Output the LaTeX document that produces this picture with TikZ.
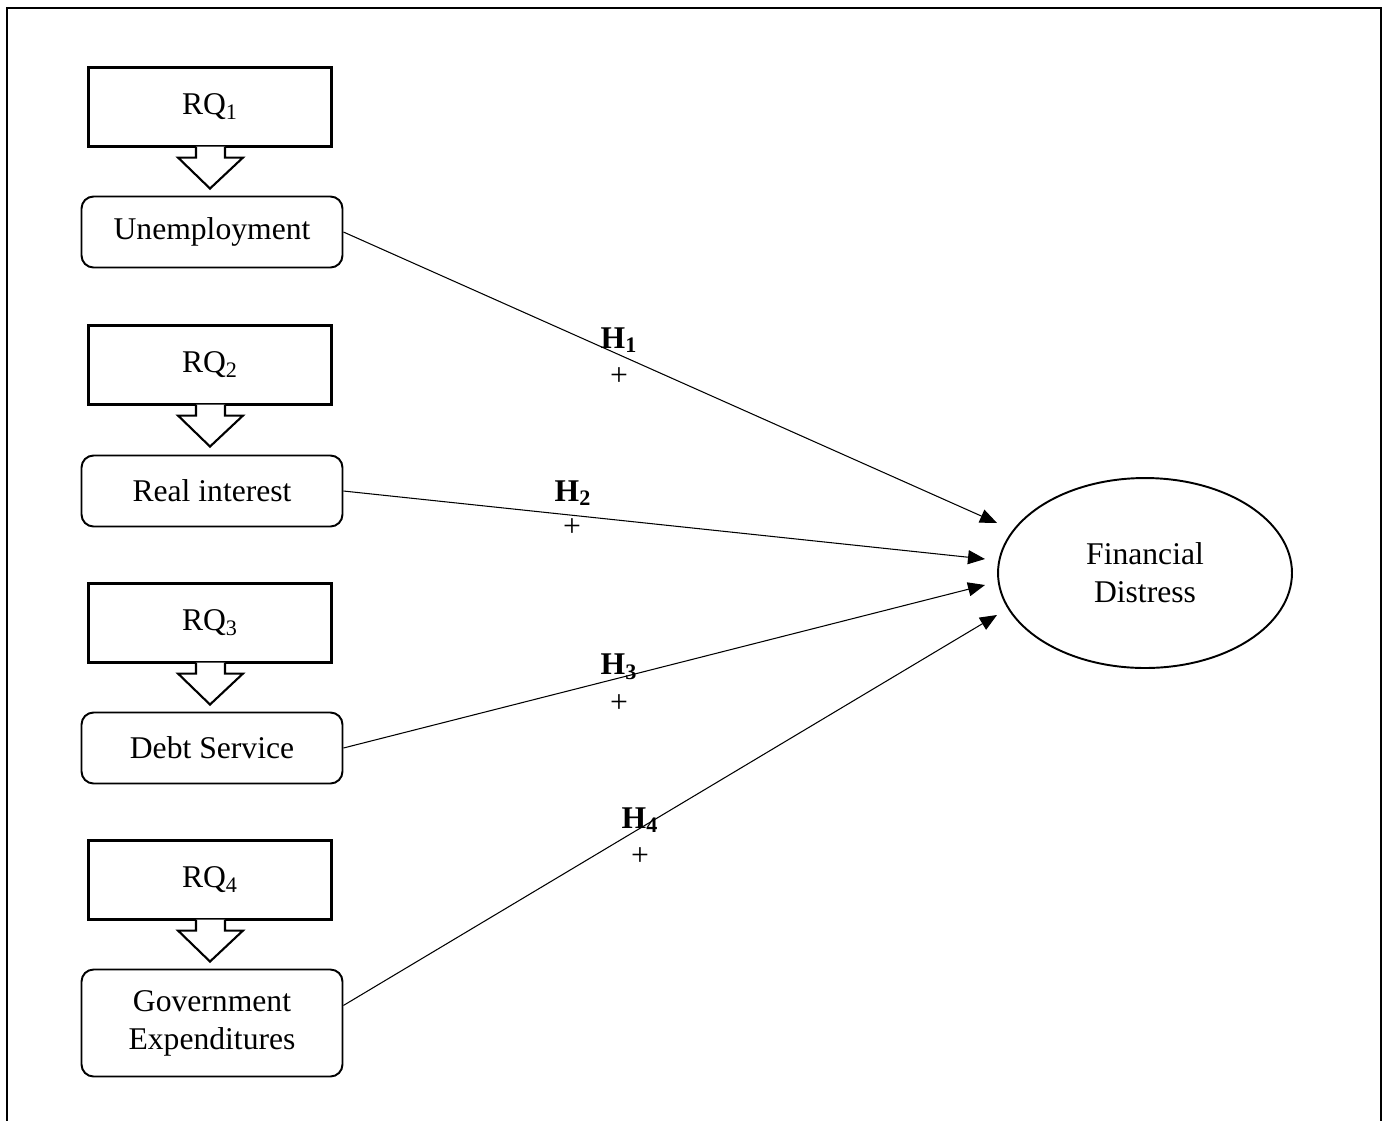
\documentclass[tikz,border=0pt]{standalone}
\usepackage{fontspec}
\setmainfont{Liberation Serif}
\usetikzlibrary{shapes.geometric,arrows.meta}

\tikzset{
  rqbox/.style={draw, line width=1.2pt, minimum width=4.86cm, minimum height=1.58cm},
  varbox/.style={draw, line width=1.1pt, rounded corners=0.24cm, minimum width=5.22cm, minimum height=1.42cm, align=center},
  blockarrow/.style={draw, fill=white, line width=1.2pt, line join=miter},
  hyp/.style={-{Triangle[length=0.34cm,width=0.28cm]}, line width=0.6pt},
}

\begin{document}
\begin{tikzpicture}[x=0.02cm, y=-0.02cm, every node/.style={font=\fontsize{18}{21.5}\selectfont}]
	\clip (0,0) rectangle (1385,1120);
	%outer frame
	\draw[line width=1.6pt] (7,1200) -- (7,8) -- (1381,8) -- (1381,1200);
	%research questions
	\node[rqbox] (rq1) at (210,107) {RQ\textsubscript{1}};
	\node[rqbox] (rq2) at (210,365) {RQ\textsubscript{2}};
	\node[rqbox] (rq3) at (210,623) {RQ\textsubscript{3}};
	\node[rqbox] (rq4) at (210,880) {RQ\textsubscript{4}};
	%variables
	\node[varbox] (unemp) at (212,232) {Unemployment};
	\node[varbox] (realint) at (212,491) {Real interest};
	\node[varbox] (debt) at (212,748) {Debt Service};
	\node[varbox, minimum height=2.14cm] (gov) at (212,1023) {Government\\Expenditures};
	%block arrows
	\draw[blockarrow] (rq1.south) ++(-14,-1) -- ++(0,11) -- ++(-18,0) -- ++(32,31) -- ++(33,-31) -- ++(-18,0) -- ++(0,-11);
	\draw[blockarrow] (rq2.south) ++(-14,-1) -- ++(0,11) -- ++(-18,0) -- ++(32,31) -- ++(33,-31) -- ++(-18,0) -- ++(0,-11);
	\draw[blockarrow] (rq3.south) ++(-14,-1) -- ++(0,11) -- ++(-18,0) -- ++(32,31) -- ++(33,-31) -- ++(-18,0) -- ++(0,-11);
	\draw[blockarrow] (rq4.south) ++(-14,-1) -- ++(0,11) -- ++(-18,0) -- ++(32,31) -- ++(33,-31) -- ++(-18,0) -- ++(0,-11);
	%outcome
	\node[draw, ellipse, line width=1.1pt, minimum width=5.88cm, minimum height=3.8cm, inner sep=0pt, align=center] (fd) at (1145,573) {Financial\\Distress};
	\coordinate (e1) at (997,523);
	\coordinate (e2) at (985,559);
	\coordinate (e3) at (985,585);
	\coordinate (e4) at (997,615);
	%hypotheses
	\draw[hyp] (unemp.east) -- (e1);
	\draw[hyp] (realint.east) -- (e2);
	\draw[hyp] (debt.east) -- (e3);
	\draw[hyp] ([yshift=10]gov.east) -- (e4);
	\node (h1) at (619,340) {\textbf{H\textsubscript{1}}};
	\node (p1) at (619,377) {+};
	\node (h2) at (573,493) {\textbf{H\textsubscript{2}}};
	\node (p2) at (572,528) {+};
	\node (h3) at (619,667) {\textbf{H\textsubscript{3}}};
	\node (p3) at (619,704) {+};
	\node (h4) at (640,820) {\textbf{H\textsubscript{4}}};
	\node (p4) at (640,857) {+};
\end{tikzpicture}
\end{document}
